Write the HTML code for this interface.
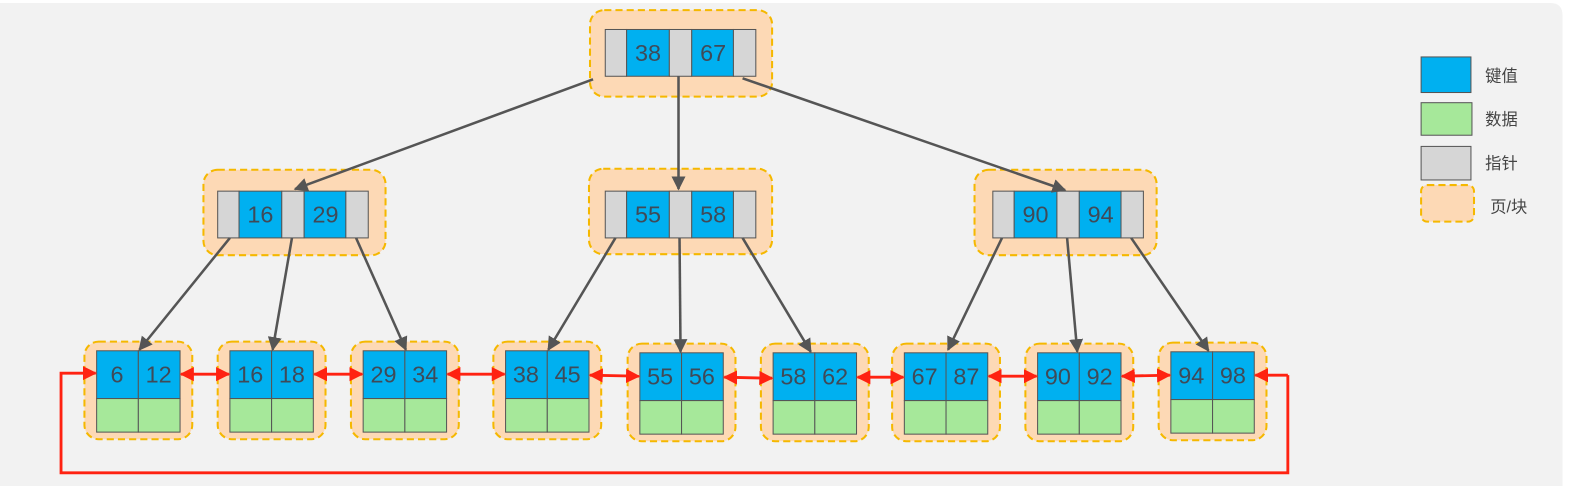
<!DOCTYPE html>
<html><head><meta charset="utf-8"><style>
html,body{margin:0;padding:0;background:#fff;width:1592px;height:486px;overflow:hidden}
svg{display:block}
text{font-family:"Liberation Sans","DejaVu Sans","Noto Sans CJK SC",sans-serif;fill:#444}
.n text{fill:#3f4a58}
</style></head><body>
<svg width="1592" height="486" viewBox="0 0 1565 478" preserveAspectRatio="none" xmlns="http://www.w3.org/2000/svg">
<defs>
<marker id="ga" viewBox="0 0 10 10" refX="9" refY="5" markerWidth="5.5" markerHeight="5.5" orient="auto"><path d="M0,0L10,5L0,10z" fill="#555"/></marker>
<marker id="ra" viewBox="0 0 10 10" refX="9" refY="5" markerWidth="5" markerHeight="5" orient="auto"><path d="M0,0L10,5L0,10z" fill="#f21"/></marker>
<marker id="rs" viewBox="0 0 10 10" refX="1" refY="5" markerWidth="5" markerHeight="5" orient="auto"><path d="M10,0L0,5L10,10z" fill="#f21"/></marker>
</defs>
<path d="M0,3H1524Q1536,3 1536,15V478H0Z" fill="#f2f2f2"/>
<g stroke="#f5b800" stroke-width="2" stroke-dasharray="7,4" fill="#fdd9b5">
<rect x="580" y="10" width="179" height="85" rx="14"/>
<rect x="200" y="167" width="179" height="84" rx="14"/>
<rect x="579" y="166" width="180" height="84" rx="14"/>
<rect x="958" y="167" width="179" height="84" rx="14"/>
<rect x="83" y="336" width="106" height="96" rx="14"/>
<rect x="214" y="336" width="106" height="96" rx="14"/>
<rect x="345" y="336" width="106" height="96" rx="14"/>
<rect x="485" y="336" width="106" height="96" rx="14"/>
<rect x="617" y="338" width="106" height="96" rx="14"/>
<rect x="748" y="338" width="106" height="96" rx="14"/>
<rect x="877" y="338" width="106" height="96" rx="14"/>
<rect x="1008" y="338" width="106" height="96" rx="14"/>
<rect x="1139" y="337" width="106" height="96" rx="14"/>
<rect x="1397" y="182" width="52" height="36" rx="6"/>
</g>
<g stroke="#555" stroke-width="1">
<g transform="translate(595,29)"><rect width="21" height="46" fill="#d6d6d6"/><rect x="21" width="42" height="46" fill="#00b0f0"/><rect x="63" width="22" height="46" fill="#d6d6d6"/><rect x="85" width="41" height="46" fill="#00b0f0"/><rect x="126" width="22" height="46" fill="#d6d6d6"/></g>
<g transform="translate(214,188)"><rect width="21" height="46" fill="#d6d6d6"/><rect x="21" width="42" height="46" fill="#00b0f0"/><rect x="63" width="22" height="46" fill="#d6d6d6"/><rect x="85" width="41" height="46" fill="#00b0f0"/><rect x="126" width="22" height="46" fill="#d6d6d6"/></g>
<g transform="translate(595,188)"><rect width="21" height="46" fill="#d6d6d6"/><rect x="21" width="42" height="46" fill="#00b0f0"/><rect x="63" width="22" height="46" fill="#d6d6d6"/><rect x="85" width="41" height="46" fill="#00b0f0"/><rect x="126" width="22" height="46" fill="#d6d6d6"/></g>
<g transform="translate(976,188)"><rect width="21" height="46" fill="#d6d6d6"/><rect x="21" width="42" height="46" fill="#00b0f0"/><rect x="63" width="22" height="46" fill="#d6d6d6"/><rect x="85" width="41" height="46" fill="#00b0f0"/><rect x="126" width="22" height="46" fill="#d6d6d6"/></g>
<g transform="translate(95,345)"><rect width="41" height="47" fill="#00b0f0"/><rect x="41" width="41" height="47" fill="#00b0f0"/><rect y="47" width="41" height="33" fill="#a6e89a"/><rect x="41" y="47" width="41" height="33" fill="#a6e89a"/></g>
<g transform="translate(226,345)"><rect width="41" height="47" fill="#00b0f0"/><rect x="41" width="41" height="47" fill="#00b0f0"/><rect y="47" width="41" height="33" fill="#a6e89a"/><rect x="41" y="47" width="41" height="33" fill="#a6e89a"/></g>
<g transform="translate(357,345)"><rect width="41" height="47" fill="#00b0f0"/><rect x="41" width="41" height="47" fill="#00b0f0"/><rect y="47" width="41" height="33" fill="#a6e89a"/><rect x="41" y="47" width="41" height="33" fill="#a6e89a"/></g>
<g transform="translate(497,345)"><rect width="41" height="47" fill="#00b0f0"/><rect x="41" width="41" height="47" fill="#00b0f0"/><rect y="47" width="41" height="33" fill="#a6e89a"/><rect x="41" y="47" width="41" height="33" fill="#a6e89a"/></g>
<g transform="translate(629,347)"><rect width="41" height="47" fill="#00b0f0"/><rect x="41" width="41" height="47" fill="#00b0f0"/><rect y="47" width="41" height="33" fill="#a6e89a"/><rect x="41" y="47" width="41" height="33" fill="#a6e89a"/></g>
<g transform="translate(760,347)"><rect width="41" height="47" fill="#00b0f0"/><rect x="41" width="41" height="47" fill="#00b0f0"/><rect y="47" width="41" height="33" fill="#a6e89a"/><rect x="41" y="47" width="41" height="33" fill="#a6e89a"/></g>
<g transform="translate(889,347)"><rect width="41" height="47" fill="#00b0f0"/><rect x="41" width="41" height="47" fill="#00b0f0"/><rect y="47" width="41" height="33" fill="#a6e89a"/><rect x="41" y="47" width="41" height="33" fill="#a6e89a"/></g>
<g transform="translate(1020,347)"><rect width="41" height="47" fill="#00b0f0"/><rect x="41" width="41" height="47" fill="#00b0f0"/><rect y="47" width="41" height="33" fill="#a6e89a"/><rect x="41" y="47" width="41" height="33" fill="#a6e89a"/></g>
<g transform="translate(1151,346)"><rect width="41" height="47" fill="#00b0f0"/><rect x="41" width="41" height="47" fill="#00b0f0"/><rect y="47" width="41" height="33" fill="#a6e89a"/><rect x="41" y="47" width="41" height="33" fill="#a6e89a"/></g>
<rect x="1397" y="56" width="49" height="35" fill="#00b0f0"/>
<rect x="1397" y="101" width="50" height="32" fill="#a6e89a"/>
<rect x="1397" y="144" width="49" height="33" fill="#d6d6d6"/>
</g>
<g stroke="#555" stroke-width="2.5" fill="none" marker-end="url(#ga)">
<line x1="583" y1="78" x2="290" y2="186"/>
<line x1="667" y1="75" x2="667" y2="186"/>
<line x1="730" y1="77" x2="1047" y2="187"/>
<line x1="226" y1="234" x2="137" y2="344"/>
<line x1="287" y1="234" x2="268" y2="344"/>
<line x1="350" y1="234" x2="399" y2="344"/>
<line x1="605" y1="234" x2="539" y2="344"/>
<line x1="668" y1="234" x2="669" y2="346"/>
<line x1="730" y1="234" x2="797" y2="346"/>
<line x1="985" y1="234" x2="932" y2="344"/>
<line x1="1049" y1="234" x2="1059" y2="346"/>
<line x1="1112" y1="234" x2="1188" y2="345"/>
</g>
<g stroke="#f21" stroke-width="2.8" fill="none" marker-end="url(#ra)" marker-start="url(#rs)">
<line x1="178" y1="368" x2="225" y2="368"/>
<line x1="309" y1="368" x2="356" y2="368"/>
<line x1="440" y1="368" x2="496" y2="368"/>
<line x1="580" y1="369" x2="628" y2="370"/>
<line x1="712" y1="371" x2="759" y2="372"/>
<line x1="843" y1="371" x2="888" y2="371"/>
<line x1="972" y1="370" x2="1019" y2="370"/>
<line x1="1103" y1="370" x2="1150" y2="369"/>
</g>
<path d="M1266,369V465H60V367H94" stroke="#f21" stroke-width="2.8" fill="none" marker-end="url(#ra)"/>
<path d="M1266,369H1234" stroke="#f21" stroke-width="2.8" fill="none" marker-end="url(#ra)"/>
<g class="n" font-size="23" text-anchor="middle">
<text x="637" y="60">38</text><text x="701" y="60">67</text>
<text x="256" y="219">16</text><text x="320" y="219">29</text>
<text x="637" y="219">55</text><text x="701" y="219">58</text>
<text x="1018" y="219">90</text><text x="1082" y="219">94</text>
<text x="115" y="376">6</text><text x="156" y="376">12</text>
<text x="246" y="376">16</text><text x="287" y="376">18</text>
<text x="377" y="376">29</text><text x="418" y="376">34</text>
<text x="517" y="376">38</text><text x="558" y="376">45</text>
<text x="649" y="378">55</text><text x="690" y="378">56</text>
<text x="780" y="378">58</text><text x="821" y="378">62</text>
<text x="909" y="378">67</text><text x="950" y="378">87</text>
<text x="1040" y="378">90</text><text x="1081" y="378">92</text>
<text x="1171" y="377">94</text><text x="1212" y="377">98</text>
</g>
<g font-size="16">
<text x="1460" y="80">键值</text>
<text x="1460" y="123">数据</text>
<text x="1460" y="166">指针</text>
<text x="1465" y="209">页/块</text>
</g>
</svg>
</body></html>
